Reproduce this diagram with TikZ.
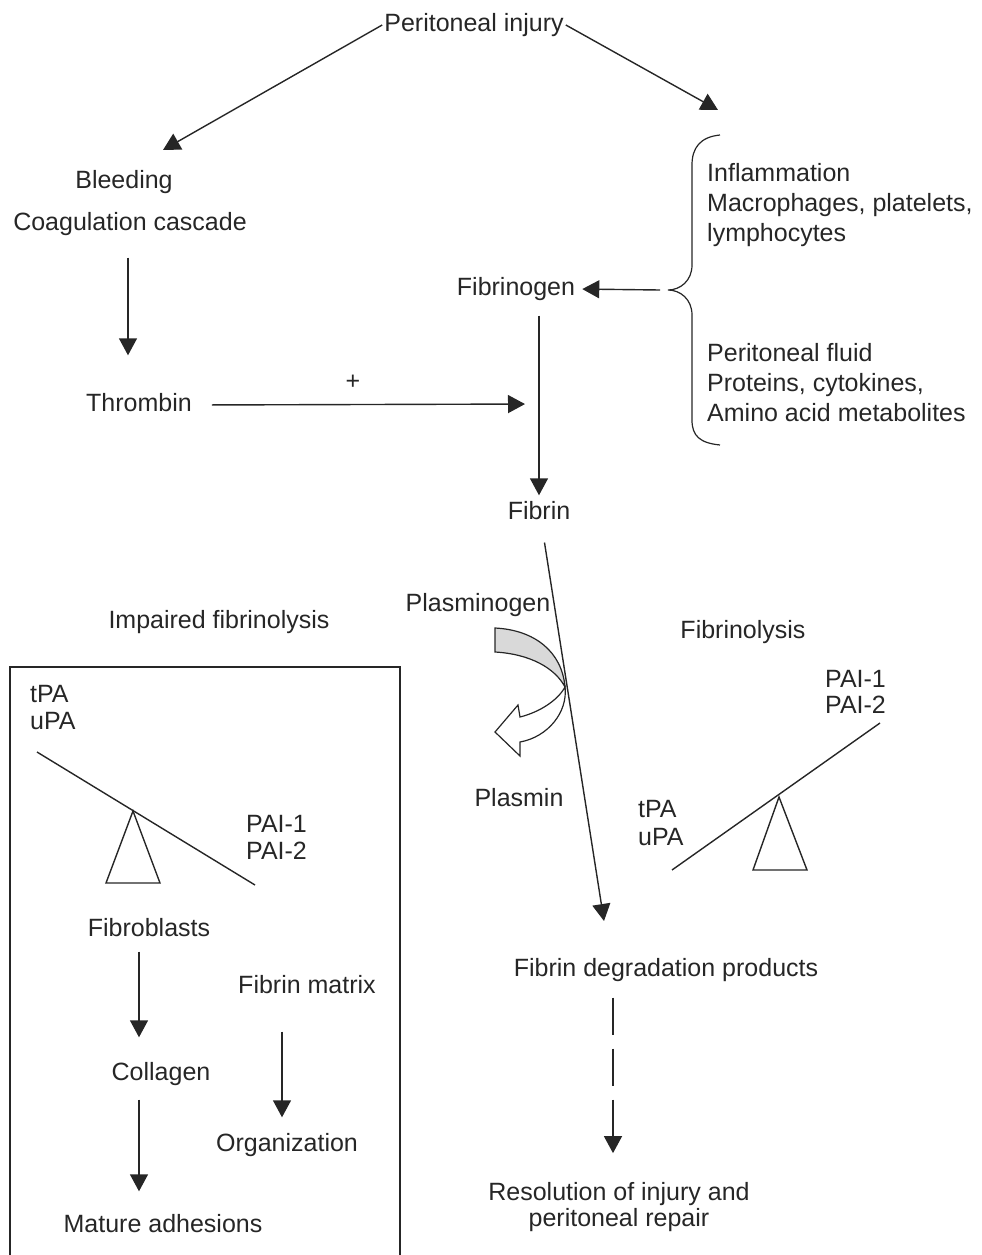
\documentclass[tikz,border=0pt]{standalone}
\usepackage{fontspec}
\setmainfont{Liberation Sans}
\usetikzlibrary{arrows.meta}
\begin{document}
\begin{tikzpicture}[x=1pt,y=-1pt,
  txt/.style={inner sep=2pt, font=\fontsize{25}{30}\selectfont, text=black!85, text height=18pt, text depth=5pt},
  mtxt/.style={inner sep=2pt, text=black!85, align=left, anchor=west},
  ln/.style={line width=1.4pt, draw=black!85},
  arr/.style={ln, -{Triangle[length=17pt,width=18pt]}},
  curv/.style={line width=1.2pt, draw=black!85},
]
\useasboundingbox (0,0) rectangle (982,1255);

% nodes
\node[txt] (inj) at (474,25) {Peritoneal injury};
\node[txt] (bleed) at (124,182) {Bleeding};
\node[txt] (coag) at (130,224) {Coagulation cascade};
\node[txt] (thr) at (139,405) {Thrombin};
\node[txt] (plus) at (353,383) {+};
\node[txt] (fbg) at (516,289) {Fibrinogen};
\node[mtxt, font=\fontsize{25}{30}\selectfont] (infl) at (705,205) {Inflammation\\Macrophages, platelets,\\lymphocytes};
\node[mtxt, font=\fontsize{25}{30}\selectfont] (pf) at (705,383) {Peritoneal fluid\\Proteins, cytokines,\\Amino acid metabolites};
\node[txt] (fib) at (539,513) {Fibrin};
\node[txt] (plg) at (478,605) {Plasminogen};
\node[txt] (pls) at (519,800) {Plasmin};
\node[txt] (imp) at (219,622) {Impaired fibrinolysis};
\node[txt] (fl) at (743,632) {Fibrinolysis};
\node[mtxt, font=\fontsize{25}{27}\selectfont] (lpa) at (28,708) {tPA\\uPA};
\node[mtxt, font=\fontsize{25}{27}\selectfont] (lpai) at (244,837) {PAI-1\\PAI-2};
\node[txt] (fbl) at (149,930) {Fibroblasts};
\node[txt] (col) at (161,1074) {Collagen};
\node[txt] (mat) at (163,1226) {Mature adhesions};
\node[txt] (fm) at (307,987) {Fibrin matrix};
\node[txt] (org) at (287,1145) {Organization};
\node[mtxt, font=\fontsize{25}{28}\selectfont] (rpa) at (636,823) {tPA\\uPA};
\node[mtxt, font=\fontsize{25}{26}\selectfont] (rpai) at (823,692) {PAI-1\\PAI-2};
\node[txt] (fdp) at (666,970) {Fibrin degradation products};
\node[inner sep=2pt, text=black!85, align=center, font=\fontsize{25}{26}\selectfont] (res) at (619,1207) {Resolution of injury and\\peritoneal repair};

% coordinates
\coordinate (tipL) at (163,150);
\coordinate (tipR) at (718,110);
\coordinate (mid) at (538,404);
\coordinate (brtip) at (660,290);
\coordinate (ltip) at (604,921);

% top arrows
\draw[arr] (inj.west) -- (tipL);
\draw[arr] (inj.east) -- (tipR);
\draw[arr, shorten <=20pt, shorten >=36pt] ([xshift=-2pt]coag.south) -- ([xshift=-2pt]coag.south |- thr.north);
\draw[arr, shorten <=18pt, shorten >=13pt] (thr.east) -- (mid);
\draw[arr, shorten >=5pt] (brtip) -- (fbg.east);
\draw[arr, shorten <=13pt, shorten >=4pt] (fbg.south -| fib.north) -- (fib.north);
\draw[arr, shorten <=16pt] ([xshift=3pt]fib.south) -- (ltip);

% brace
\draw[curv] (720,135) .. controls (700,137) and (692,148) .. (692,165) -- (692,265)
  .. controls (692,281) and (680,290) .. (668,290)
  .. controls (680,290) and (692,299) .. (692,315) -- (692,420)
  .. controls (692,436) and (700,443) .. (720,445);

% curved plasminogen -> plasmin arrow
\filldraw[curv, fill=black!15] (495,628) .. controls (535,630) and (562,652) .. (565,687)
  .. controls (555,668) and (530,654) .. (495,652) -- cycle;
\filldraw[curv, fill=white] (565,687) .. controls (568,712) and (548,737) .. (520,742)
  -- (520,756) -- (495,732) -- (518,705) -- (520,717)
  .. controls (540,712) and (558,700) .. (565,687) -- cycle;

% left box
\draw[ln] (10,1270) -- (10,667) -- (400,667) -- (400,1270);
\draw[ln] (37,752) -- (255,885);
\draw[ln] (106,883) -- (133,811) -- (160,883) -- cycle;
\draw[arr, shorten <=8pt, shorten >=23pt] ([xshift=-10pt]fbl.south) -- ([xshift=-10pt]fbl.south |- col.north);
\draw[arr, shorten <=12pt, shorten >=21pt] ([xshift=-22pt]col.south) -- ([xshift=-22pt]col.south |- mat.north);
\draw[arr, shorten <=31pt, shorten >=14pt] ([xshift=-25pt]fm.south) -- ([xshift=-25pt]fm.south |- org.north);

% right seesaw
\draw[ln] (672,870) -- (880,723);
\draw[ln] (753,870) -- (779,797) -- (807,870) -- cycle;

% dashed arrow
\draw[arr, dash pattern=on 37pt off 14pt, shorten <=14pt, shorten >=27pt] ([xshift=-53pt]fdp.south) -- ([xshift=-53pt]fdp.south |- res.north);
\end{tikzpicture}
\end{document}
